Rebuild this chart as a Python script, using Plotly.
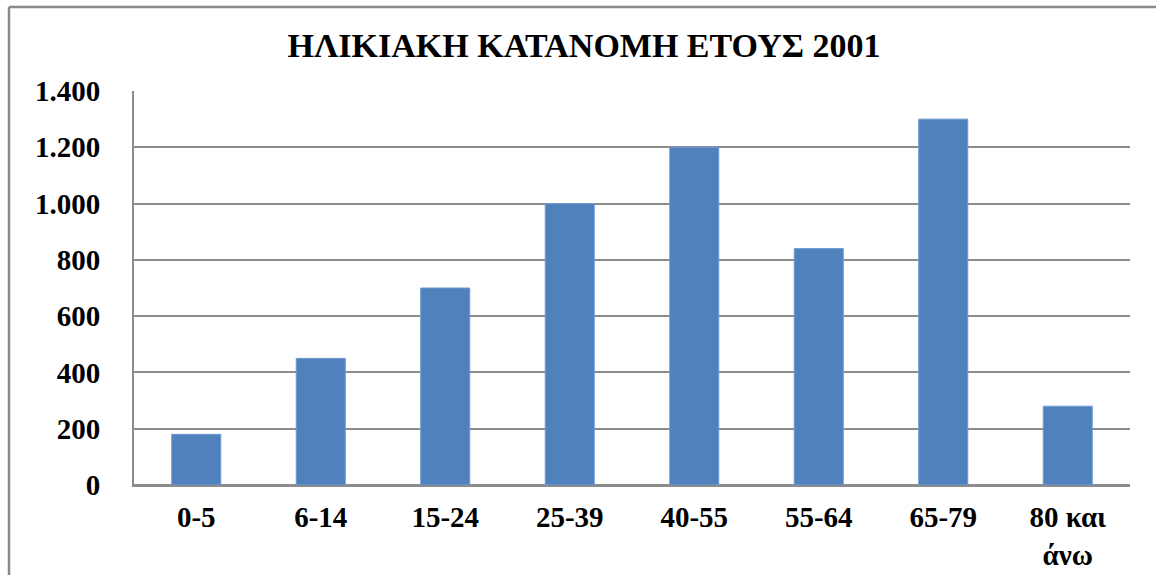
import plotly.graph_objects as go

categories = ["0-5", "6-14", "15-24", "25-39", "40-55", "55-64", "65-79", "80 και<br>άνω"]
values = [180, 450, 700, 1000, 1200, 840, 1300, 280]
y_ticks = [0, 200, 400, 600, 800, 1000, 1200, 1400]
title_text = "ΗΛΙΚΙΑΚΗ ΚΑΤΑΝΟΜΗ ΕΤΟΥΣ 2001"

W, H = 1156, 575
L, R, T, B = 134, 26, 91, 90
pw, ph = W - L - R, H - T - B

def px(x):
    return (x - L) / pw

def py(y):
    return (H - B - y) / ph

FONT = "'Liberation Serif', 'Times New Roman', serif"
GRID = "#8c8c8c"

fig = go.Figure(go.Bar(
    x=categories, y=values,
    marker=dict(color="#4F81BD", line=dict(color="#6f9bd1", width=1)),
    hoverinfo="x+y",
))

fig.update_layout(
    width=W, height=H,
    margin=dict(l=L, r=R, t=T, b=B, autoexpand=False),
    paper_bgcolor="white", plot_bgcolor="white",
    separators=",.",
    bargap=0.606,
    showlegend=False,
    font=dict(family=FONT, color="black", size=29, weight="bold"),
    title=dict(text=title_text, x=px(584), xanchor="center", xref="paper",
               y=1 - 45 / H, yanchor="middle",
               font=dict(family=FONT, size=34, color="black", weight="bold")),
    xaxis=dict(showgrid=False, showline=True, linecolor=GRID, linewidth=2,
               ticks="", tickfont=dict(size=29, family=FONT, weight="bold"),
               ticklabelstandoff=5),
    yaxis=dict(range=[0, 1400], tickvals=y_ticks, tickformat=",d",
               showgrid=True, gridcolor=GRID, gridwidth=2,
               zeroline=True, zerolinecolor=GRID, zerolinewidth=2,
               showline=True, linecolor=GRID, linewidth=2,
               ticks="", tickfont=dict(size=29, family=FONT, weight="bold"),
               ticklabelstandoff=26),
    shapes=[
        dict(type="line", xref="paper", yref="paper",
             x0=px(9), x1=px(W + 5), y0=py(7), y1=py(7),
             line=dict(color="#8a8a8a", width=2.5)),
        dict(type="line", xref="paper", yref="paper",
             x0=px(9), x1=px(9), y0=py(7), y1=py(H + 5),
             line=dict(color="#8a8a8a", width=2.5)),
    ],
)

fig.write_html("out.html",
               config={"displayModeBar": False},
               post_script="document.body.style.margin='0';document.body.style.padding='0';")
